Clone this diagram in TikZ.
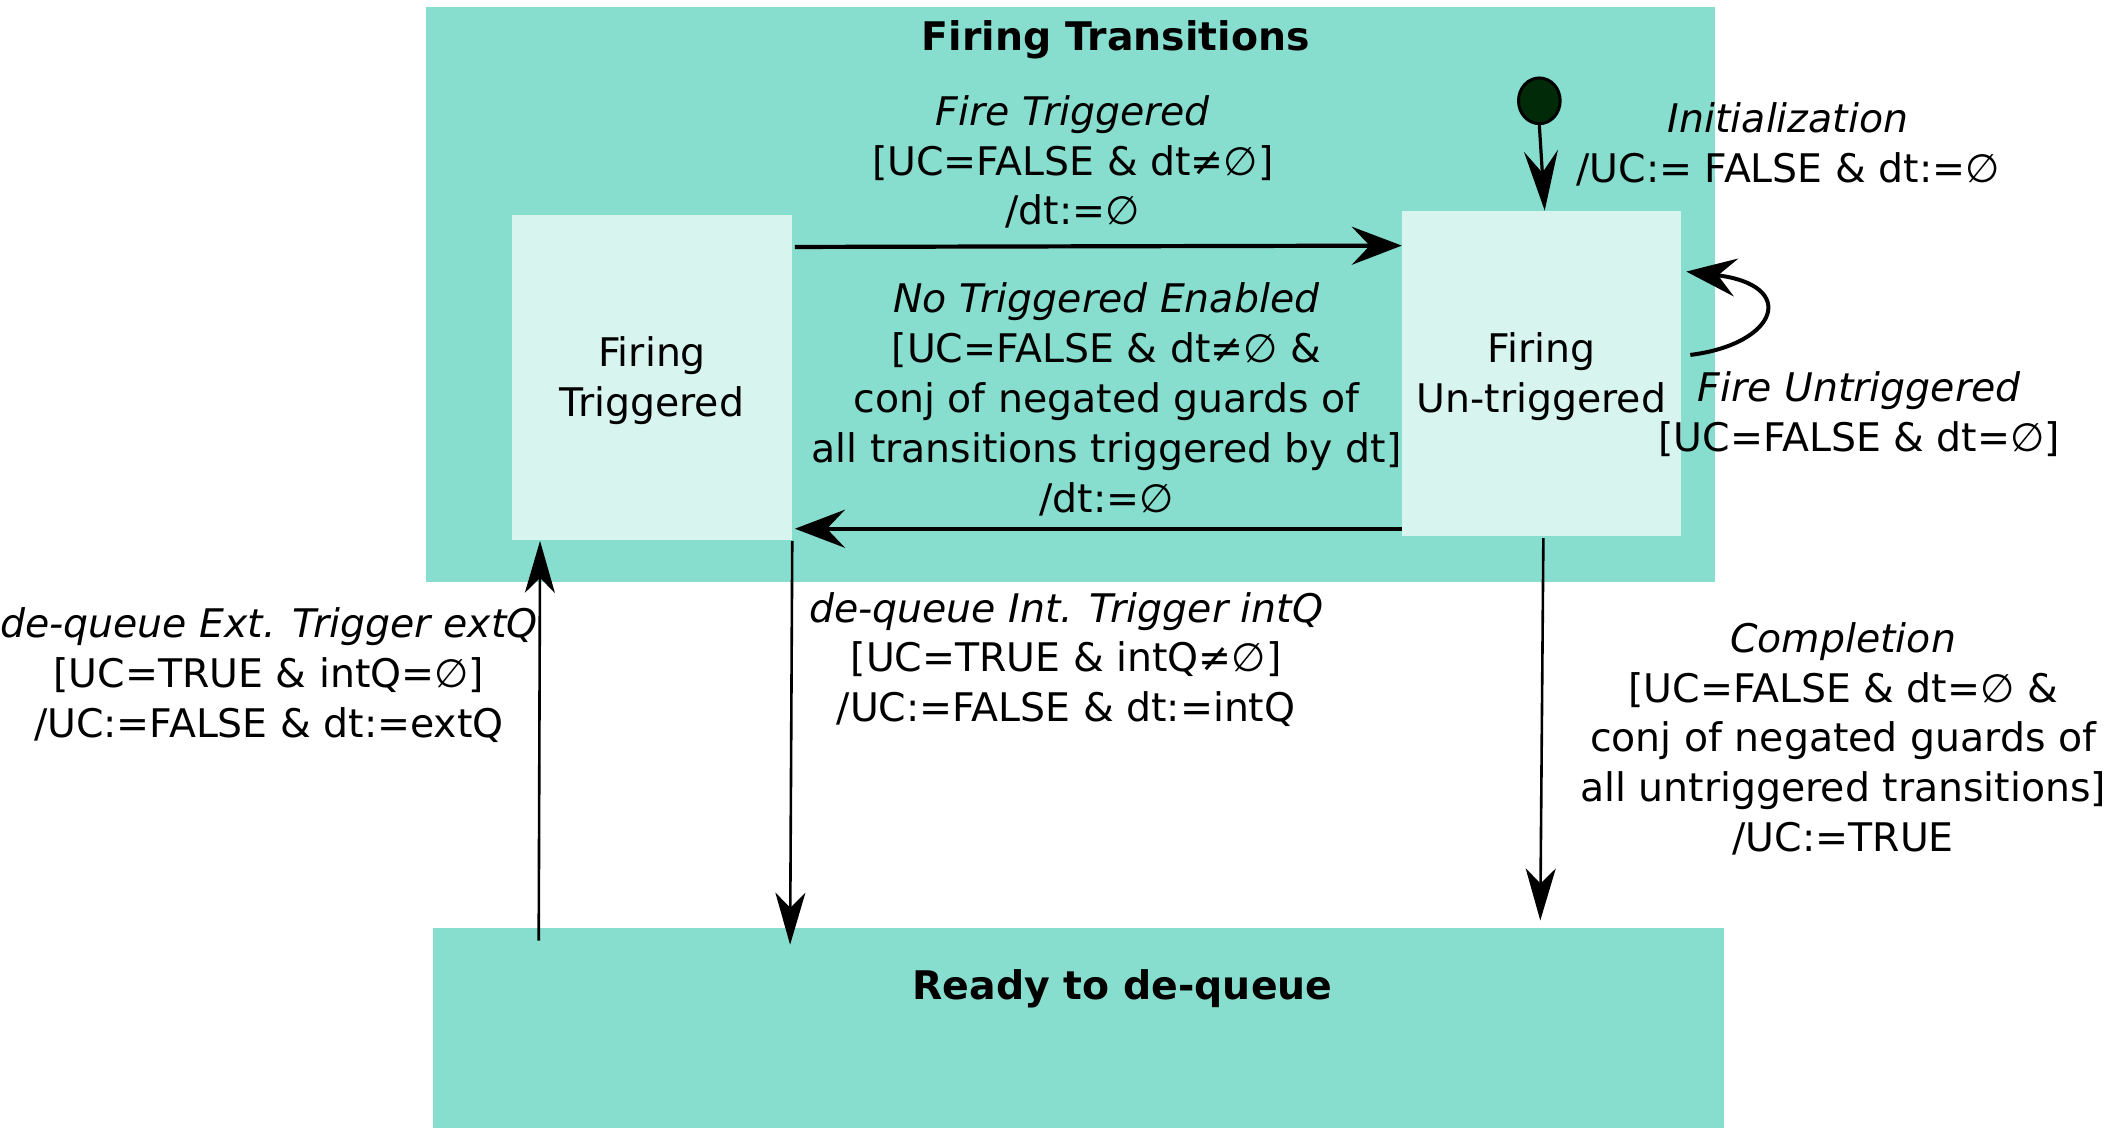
\documentclass[tikz,border=0pt]{standalone}
\usepackage{fontspec}
\setmainfont{DejaVu Sans}
\usetikzlibrary{arrows.meta,calc,shapes.geometric}
\definecolor{mint}{HTML}{88DECE}
\definecolor{pale}{HTML}{D8F4EE}
\definecolor{dotgreen}{HTML}{002A08}
\tikzset{
  txt/.style={inner sep=0pt, align=center, font=\fontsize{19.7}{24.9}\selectfont},
  statebox/.style={fill=pale, draw=none, inner sep=0pt, align=center, font=\fontsize{19.7}{24.9}\selectfont},
  mainarr/.style={line width=2.1pt, -{Stealth[length=25pt, width=19pt, inset=9pt]}},
  thinarr/.style={line width=1.3pt, -{Stealth[length=26pt, width=15pt, inset=7.5pt]}},
  initarr/.style={line width=1.6pt, -{Stealth[length=30pt, width=17pt, inset=11pt]}},
  looparr/.style={line width=2pt, -{Stealth[length=25pt, width=19pt, inset=9pt]}}
}
\begin{document}
\begin{tikzpicture}[x=0.6722pt, y=-0.6722pt]
\useasboundingbox (0,0) rectangle (1568,839);
% containers
\node[fill=mint, inner sep=0pt, minimum width=959*0.6722pt, minimum height=428*0.6722pt] (FTR) at (796.5,219) {};
\node[fill=mint, inner sep=0pt, minimum width=960*0.6722pt, minimum height=154*0.6722pt] (RD) at (802,767) {};
\node[txt, font=\fontsize{19.7}{24.9}\selectfont\bfseries] (FTRt) at (830,29.5) {Firing Transitions};
\node[txt, font=\fontsize{19.7}{24.9}\selectfont\bfseries] (RDt) at (835,735.5) {Ready to de-queue};
% states
\node[statebox, minimum width=208*0.6722pt, minimum height=242*0.6722pt] (FT) at (485,281) {};
\node[txt] (FTt) at (485,283) {Firing\\Triggered};
\node[statebox, minimum width=207*0.6722pt, minimum height=242*0.6722pt] (FU) at (1146.5,278) {};
\node[txt] (FUt) at (1146.5,280) {Firing\\Un-triggered};
% initial dot
\node[ellipse, draw=black, line width=1.5pt, fill=dotgreen, minimum width=31*0.6722pt, minimum height=34*0.6722pt, inner sep=0pt] (dot) at (1145,75) {};
% connectors
\draw[initarr] (dot.south) -- ($(FU.north)+(2.5,0)$);
\draw[mainarr] ($(FT.north east)+(2,24)$) -- ($(FU.north west)+(0,26)$);
\draw[mainarr] ($(FU.south west)+(0,-6)$) -- ($(FT.south east)+(2,-9)$);
\draw[looparr] ($(FU.east)+(7,-14)$) .. controls ($(FU.east)+(72,-22)$) and ($(FU.east)+(88,-66)$) .. ($(FU.east)+(4,-76)$);
\draw[thinarr] (FT.south east) -- ($(RD.north west)+(266,13)$);
\draw[thinarr] ($(FU.south)+(1.5,1)$) -- ($(RD.north west)+(824,-5)$);
\draw[thinarr] ($(RD.north west)+(79,10)$) -- ($(FT.south west)+(21,0)$);
% labels
\node[txt] (lFT) at (798,120.5) {\textit{Fire Triggered}\\{[}UC=FALSE \& dt≠∅{]}\\/dt:=∅};
\node[txt] (lNT) at (823,297) {\textit{No Triggered Enabled}\\{[}UC=FALSE \& dt≠∅ \&\\conj of negated guards of\\all transitions triggered by dt{]}\\/dt:=∅};
\node[txt] (lIn) at (1330,107.5) {\textit{Initialization}\\/UC:= FALSE \& dt:=∅};
\node[txt] (lFU) at (1383,308) {\textit{Fire Untriggered}\\{[}UC=FALSE \& dt=∅{]}};
\node[txt] (lInt) at (793,490.5) {\textit{de-queue Int. Trigger intQ}\\{[}UC=TRUE \& intQ≠∅{]}\\/UC:=FALSE \& dt:=intQ};
\node[txt] (lCo) at (1371,549.5) {\textit{Completion}\\{[}UC=FALSE \& dt=∅ \&\\conj of negated guards of\\all untriggered transitions{]}\\/UC:=TRUE};
\node[txt] (lEx) at (200,502) {\textit{de-queue Ext. Trigger extQ}\\{[}UC=TRUE \& intQ=∅{]}\\/UC:=FALSE \& dt:=extQ};
\end{tikzpicture}
\end{document}
